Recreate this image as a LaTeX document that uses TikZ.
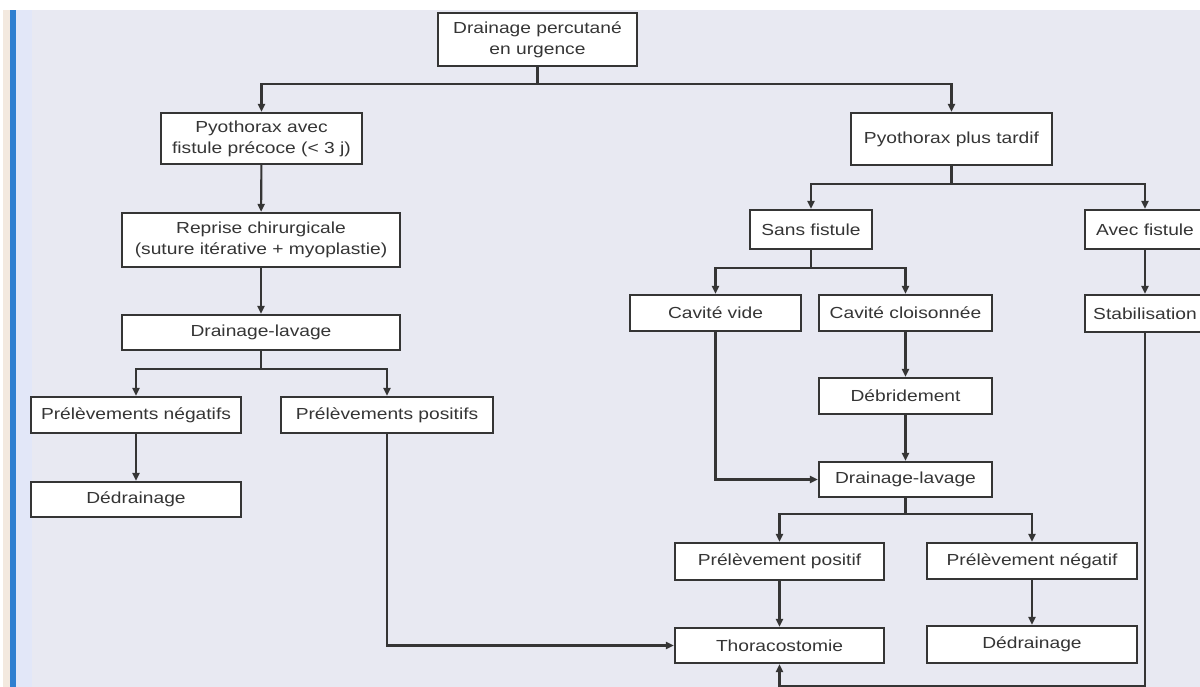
\documentclass[tikz,border=0pt]{standalone}
\usepackage{fontspec}
\setmainfont{Liberation Sans}[FakeStretch=1.2]
\usetikzlibrary{arrows.meta}

\definecolor{pagebg}{HTML}{E8E9F2}
\definecolor{leftbeige}{HTML}{F3E9DF}
\definecolor{leftblue}{HTML}{2F7FD0}
\definecolor{paleblue}{HTML}{E2E7F8}
\definecolor{inkgray}{HTML}{353535}

\tikzset{
  box/.style={draw=inkgray, line width=2.1pt, fill=white, text=inkgray,
    inner sep=0pt, align=center, font=\fontsize{16}{21}\selectfont},
  link/.style={draw=inkgray, line width=2.1pt},
  arr/.style={link, -{Triangle[length=8pt,width=7pt]}}
}

\begin{document}
\begin{tikzpicture}[x=1pt, y=-1pt]
    % Page background with the blue margin line
    \clip (0,0) rectangle (1200,687);
    \fill[white] (0,0) rectangle (1200,687);
    \fill[pagebg] (16,10) rectangle (1200,687);
    \fill[leftbeige] (3,10) rectangle (10,687);
    \fill[paleblue] (16,10) rectangle (32,687);
    \fill[leftblue] (10,10) rectangle (16,687);

    % Top box
    \node[box, minimum width=199pt, minimum height=53pt] (top) at (537.5,39.5) {Drainage percutané\\en urgence};

    % Left branch: early fistula
    \node[box, minimum width=201pt, minimum height=51pt] (pyoA) at (261.5,138.5) {Pyothorax avec\\fistule précoce (< 3 j)};
    \node[box, minimum width=278pt, minimum height=54pt] (reprise) at (261,240) {Reprise chirurgicale\\(suture itérative + myoplastie)};
    \node[box, minimum width=278pt, minimum height=35pt] (lavL) at (261,332.5) {Drainage-lavage};
    \node[box, minimum width=210pt, minimum height=36pt] (negL) at (136,415) {Prélèvements négatifs};
    \node[box, minimum width=212pt, minimum height=36pt] (posL) at (387,415) {Prélèvements positifs};
    \node[box, minimum width=210pt, minimum height=35pt] (dedL) at (136,499.5) {Dédrainage};

    % Right branch: later pyothorax
    \node[box, minimum width=201pt, minimum height=52pt] (pyoT) at (951.5,139) {Pyothorax plus tardif};
    \node[box, minimum width=122pt, minimum height=39pt] (sans) at (811,229.5) {Sans fistule};
    \node[box, minimum width=120pt, minimum height=39pt] (avec) at (1145,229.5) {Avec fistule};
    \node[box, minimum width=171pt, minimum height=36pt] (vide) at (715.5,313) {Cavité vide};
    \node[box, minimum width=173pt, minimum height=36pt] (cloison) at (905.5,313) {Cavité cloisonnée};
    \node[box, minimum width=120pt, minimum height=37pt] (stab) at (1145,313.5) {Stabilisation};
    \node[box, minimum width=173pt, minimum height=36pt] (debr) at (905.5,396) {Débridement};
    \node[box, minimum width=173pt, minimum height=35pt] (lavR) at (905.5,479.5) {Drainage-lavage};
    \node[box, minimum width=209pt, minimum height=37pt] (posR) at (779.5,561.5) {Prélèvement positif};
    \node[box, minimum width=210pt, minimum height=36pt] (negR) at (1032,561) {Prélèvement négatif};
    \node[box, minimum width=209pt, minimum height=35pt] (thor) at (779.5,645.5) {Thoracostomie};
    \node[box, minimum width=210pt, minimum height=37pt] (dedR) at (1032,644.5) {Dédrainage};

    % Split under the top box
    \draw[link] (top.south) -- ++(0,17) coordinate (splitTop);
    \draw[arr] (splitTop) -| (pyoA.north);
    \draw[arr] (splitTop) -| (pyoT.north);

    % Left column
    \draw[arr] (pyoA) -- (reprise);
    \draw[arr] (reprise) -- (lavL);
    \draw[link] (lavL.south) -- ++(0,18) coordinate (splitL);
    \draw[arr] (splitL) -| (negL.north);
    \draw[arr] (splitL) -| (posL.north);
    \draw[arr] (negL) -- (dedL);
    \draw[arr] (posL.south) |- (thor.west);

    % Right column
    \draw[link] (pyoT.south) -- ++(0,18) coordinate (splitT);
    \draw[arr] (splitT) -| (sans.north);
    \draw[arr] (splitT) -| (avec.north);
    \draw[link] (sans.south) -- ++(0,18) coordinate (splitS);
    \draw[arr] (splitS) -| (vide.north);
    \draw[arr] (splitS) -| (cloison.north);
    \draw[arr] (cloison) -- (debr);
    \draw[arr] (debr) -- (lavR);
    \draw[arr] (vide.south) |- (lavR.west);
    \draw[link] (lavR.south) -- ++(0,16) coordinate (splitR);
    \draw[arr] (splitR) -| (posR.north);
    \draw[arr] (splitR) -| (negR.north);
    \draw[arr] (posR) -- (thor);
    \draw[arr] (negR) -- (dedR);

    % Fistula path back to thoracostomy
    \draw[arr] (avec) -- (stab);
    \draw[arr] (stab.south) -- ++(0,353) -| (thor.south);
\end{tikzpicture}
\end{document}
